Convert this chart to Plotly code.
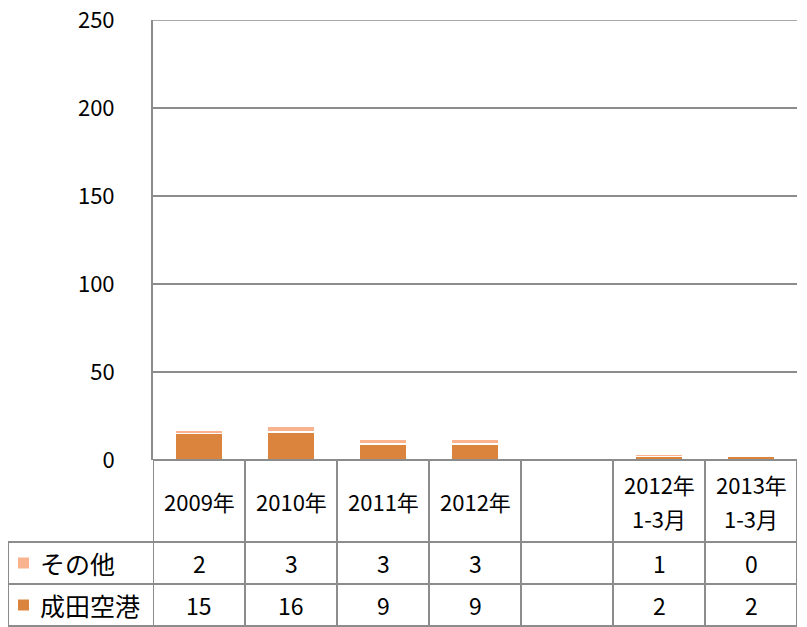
import plotly.graph_objects as go

categories = ["2009年", "2010年", "2011年", "2012年", "", "2012年<br>1-3月", "2013年<br>1-3月"]
series_names = ["その他", "成田空港"]
other_vals = [2, 3, 3, 3, None, 1, 0]
narita_vals = [15, 16, 9, 9, None, 2, 2]
y_ticks = [0, 50, 100, 150, 200, 250]

COL_NARITA = "#DA843D"
COL_OTHER = "#F9B48F"
GRID = "#8C8C8C"
FONT = "'Noto Sans CJK JP', sans-serif"
FS = 23

OFF = 8  # page body margin
W, H = 807 - OFF, 627 - OFF
L, T = 153 - OFF, 20 - OFF
R = 10
ph = 440
B = H - T - ph
pw = W - L - R

def py(pix):
    pix -= OFF
    return (T + ph - pix) / ph

def px(pix):
    pix -= OFF
    return (pix - L) / pw

xs = list(range(len(categories)))

fig = go.Figure()
fig.add_trace(go.Bar(x=xs, y=narita_vals, name=series_names[1], marker=dict(color=COL_NARITA, line=dict(color="white", width=1.5)), width=0.52))
fig.add_trace(go.Bar(x=xs, y=other_vals, name=series_names[0], marker=dict(color=COL_OTHER, line=dict(color="white", width=1.5)), width=0.52))

shapes = []
annotations = []
y_hdr_bot = py(542)
y_r1_bot = py(584)
y_r2_bot = py(626)
x_left = px(8)
line = dict(color=GRID, width=2)
# top gridline (max of y range)
shapes.append(dict(type="line", xref="paper", yref="y", x0=0, x1=1, y0=y_ticks[-1], y1=y_ticks[-1],
                   line=dict(color=GRID, width=1.5)))
shapes.append(dict(type="line", xref="paper", yref="paper", x0=0, x1=1, y0=0, y1=0, line=line))
for yy in [y_hdr_bot, y_r1_bot, y_r2_bot]:
    shapes.append(dict(type="line", xref="paper", yref="paper", x0=x_left, x1=1, y0=yy, y1=yy, line=line))
shapes.append(dict(type="line", xref="paper", yref="paper", x0=x_left, x1=x_left, y0=y_hdr_bot, y1=y_r2_bot, line=line))
for i in range(len(categories) + 1):
    xv = i - 0.5
    shapes.append(dict(type="line", xref="x", yref="paper", x0=xv, x1=xv, y0=0, y1=y_r2_bot, line=line))

LINE_GAP = 34
for i, c in enumerate(categories):
    parts = c.split("<br>") if c else []
    n = len(parts)
    for k, part in enumerate(parts):
        shift = ((n - 1) / 2 - k) * LINE_GAP
        annotations.append(dict(x=i, y=(0 + y_hdr_bot) / 2, xref="x", yref="paper", text=part, showarrow=False,
                                yshift=shift, font=dict(size=22, color="black", family=FONT), yanchor="middle"))
    for vals, yy in [(other_vals, (y_hdr_bot + y_r1_bot) / 2), (narita_vals, (y_r1_bot + y_r2_bot) / 2)]:
        v = vals[i]
        if v is not None:
            annotations.append(dict(x=i, y=yy, xref="x", yref="paper", text=str(v), showarrow=False,
                                    font=dict(size=FS, color="black", family=FONT), yanchor="middle"))

for name, col, yy in [(series_names[0], COL_OTHER, (y_hdr_bot + y_r1_bot) / 2), (series_names[1], COL_NARITA, (y_r1_bot + y_r2_bot) / 2)]:
    shapes.append(dict(type="rect", xref="paper", yref="paper", x0=px(18), x1=px(29), y0=yy - 5.5 / ph, y1=yy + 5.5 / ph,
                       fillcolor=col, line=dict(width=0)))
    annotations.append(dict(x=px(38), y=yy, xref="paper", yref="paper", text=name, showarrow=False, xanchor="left",
                            font=dict(size=25, color="black", family=FONT), yanchor="middle"))

fig.update_layout(
    width=W, height=H, margin=dict(l=L, r=R, t=T, b=B, autoexpand=False),
    barmode="stack", showlegend=False,
    plot_bgcolor="white", paper_bgcolor="white",
    shapes=shapes, annotations=annotations,
    font=dict(family=FONT, size=FS, color="black"),
)
fig.update_xaxes(range=[-0.5, len(categories) - 0.5], showticklabels=False, showgrid=False, zeroline=False,
                 fixedrange=True, automargin=False)
fig.update_yaxes(range=[0, 250], tickvals=y_ticks, showgrid=True, gridcolor=GRID, gridwidth=1.5,
                 showline=True, linecolor=GRID, linewidth=2, zeroline=False, ticks="", ticklabelstandoff=32,
                 ticklabeloverflow="allow", automargin=False,
                 tickfont=dict(size=22, family=FONT, color="black"))

fig.write_html("out.html")
